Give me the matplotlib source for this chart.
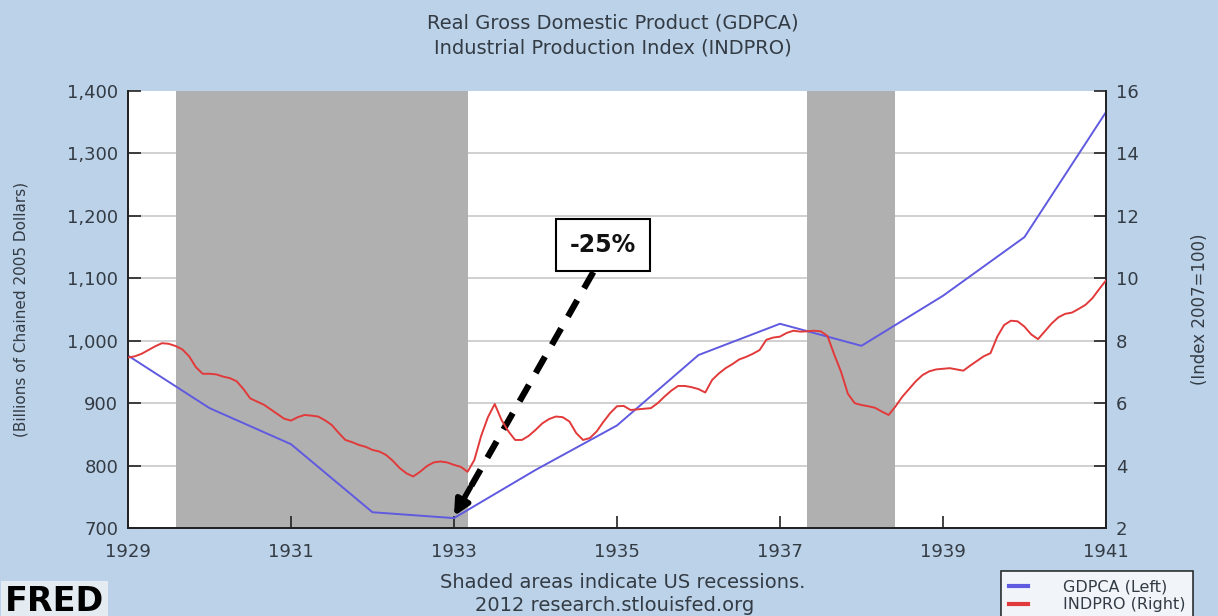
import matplotlib
matplotlib.use("Agg")
import matplotlib.pyplot as plt
import numpy as np

# GDPCA, annual (Billions of Chained 2005 Dollars)
gdp_years = [1929, 1930, 1931, 1932, 1933, 1934, 1935, 1936, 1937, 1938, 1939, 1940, 1941]
gdp_vals = [976.1, 892.0, 834.2, 725.2, 715.8, 792.9, 864.2, 977.0, 1027.1, 991.8, 1071.9, 1165.9, 1366.1]

# INDPRO, monthly (Index 2007=100), Jan 1929 .. Jan 1941
ind_1929 = [7.46, 7.50, 7.58, 7.70, 7.82, 7.92, 7.90, 7.83, 7.72, 7.50, 7.15, 6.94]
ind_1930 = [6.94, 6.92, 6.85, 6.80, 6.70, 6.45, 6.15, 6.05, 5.95, 5.80, 5.65, 5.50]
ind_1931 = [5.44, 5.55, 5.62, 5.60, 5.57, 5.45, 5.30, 5.05, 4.82, 4.75, 4.66, 4.60]
ind_1932 = [4.50, 4.45, 4.34, 4.15, 3.92, 3.75, 3.65, 3.80, 3.98, 4.10, 4.13, 4.10]
ind_1933 = [4.02, 3.96, 3.80, 4.18, 4.95, 5.55, 5.97, 5.46, 5.10, 4.82, 4.82, 4.95]
ind_1934 = [5.14, 5.35, 5.49, 5.57, 5.55, 5.41, 5.04, 4.82, 4.88, 5.09, 5.40, 5.68]
ind_1935 = [5.90, 5.91, 5.78, 5.80, 5.82, 5.84, 6.00, 6.21, 6.40, 6.55, 6.55, 6.51]
ind_1936 = [6.45, 6.34, 6.74, 6.95, 7.12, 7.25, 7.40, 7.48, 7.58, 7.70, 8.03, 8.10]
ind_1937 = [8.13, 8.25, 8.32, 8.29, 8.30, 8.32, 8.30, 8.15, 7.55, 7.00, 6.30, 6.00]
ind_1938 = [5.94, 5.90, 5.85, 5.73, 5.62, 5.89, 6.20, 6.45, 6.70, 6.90, 7.02, 7.08]
ind_1939 = [7.10, 7.12, 7.08, 7.04, 7.20, 7.35, 7.50, 7.60, 8.13, 8.50, 8.64, 8.62]
ind_1940 = [8.45, 8.20, 8.05, 8.30, 8.55, 8.75, 8.86, 8.90, 9.02, 9.15, 9.36, 9.65]
ind_1941 = [9.93]
ind_vals = (ind_1929 + ind_1930 + ind_1931 + ind_1932 + ind_1933 + ind_1934 + ind_1935
            + ind_1936 + ind_1937 + ind_1938 + ind_1939 + ind_1940 + ind_1941)
ind_x = [1929 + i / 12 for i in range(len(ind_vals))]

# recessions (start, end) as fractional years
recessions = [(1929 + 7 / 12, 1933 + 2 / 12), (1937 + 4 / 12, 1938 + 5 / 12)]

xticks = [1929, 1931, 1933, 1935, 1937, 1939, 1941]
left_ticks = [700, 800, 900, 1000, 1100, 1200, 1300, 1400]
right_ticks = [2, 4, 6, 8, 10, 12, 14, 16]

bg = "#bcd2e8"
txt = "#333b44"
blue = "#5f5ae0"
red = "#e23a3a"

plt.rcParams['font.family'] = ['DejaVu Sans']

fig = plt.figure(figsize=(12.18, 6.16), dpi=100, facecolor=bg)
ax = fig.add_axes([0.1051, 0.1429, 0.8029, 0.7094])
ax.set_facecolor("white")
ax2 = ax.twinx()

for s, e in recessions:
    ax.axvspan(s, e, color="#b0b0b0", lw=0, zorder=1)

for t in left_ticks[1:-1]:
    ax.axhline(t, color="#c8c8c8", lw=1.2, zorder=0.5)

ax.plot(gdp_years, gdp_vals, color=blue, lw=1.4, zorder=3, label="GDPCA (Left)")
ax2.plot(ind_x, ind_vals, color=red, lw=1.4, zorder=3, label="INDPRO (Right)")

ax.set_xlim(1929, 1941)
ax.set_ylim(700, 1400)
ax2.set_ylim(2, 16)
ax.set_xticks(xticks)
ax.set_xticklabels([str(x) for x in xticks])
ax.set_yticks(left_ticks)
ax.set_yticklabels(["{:,}".format(v) for v in left_ticks])
ax2.set_yticks(right_ticks)
ax2.set_yticklabels([str(v) for v in right_ticks])

for a in (ax, ax2):
    for sp in a.spines.values():
        sp.set_color("#222222")
        sp.set_linewidth(1.3)
    a.spines['top'].set_visible(False)
ax.tick_params(axis='both', direction='in', length=9, width=1.2, color="#222222",
               labelsize=13, labelcolor=txt)
ax.tick_params(axis='x', pad=11)
ax.tick_params(axis='y', pad=7)
ax2.tick_params(axis='y', direction='in', length=9, width=1.2, color="#222222",
                labelsize=13, labelcolor=txt, pad=7)

ax.set_ylabel("(Billions of Chained 2005 Dollars)", fontsize=11, color=txt, labelpad=28)
ax2.set_ylabel("(Index 2007=100)", fontsize=12, color=txt, labelpad=38)

# -25% annotation
ax.annotate("", xy=(1933.0, 719), xytext=(1934.71, 1110),
            arrowprops=dict(arrowstyle="-", lw=4.5, ls=(0, (3.0, 2.2)), color="black",
                            capstyle='butt', shrinkA=0, shrinkB=14), zorder=5)
ax.annotate("", xy=(1933.0, 719), xytext=(1933.2, 765),
            arrowprops=dict(arrowstyle="-|>,head_length=0.9,head_width=0.45", lw=4,
                            color="black", shrinkA=0, shrinkB=0), zorder=5)
ax.text(1934.83, 1153, "-25%", fontsize=17, fontweight='bold', color="#111111",
        ha='center', va='center', zorder=6,
        bbox=dict(boxstyle="square,pad=0.6", fc="white", ec="black", lw=1.5))

fig.text(0.503, 0.962, "Real Gross Domestic Product (GDPCA)", ha='center', va='center',
         fontsize=14, color=txt)
fig.text(0.503, 0.922, "Industrial Production Index (INDPRO)", ha='center', va='center',
         fontsize=14, color=txt)
fig.text(0.511, 0.055, "Shaded areas indicate US recessions.", ha='center', va='center',
         fontsize=14, color=txt)
fig.text(0.505, 0.017, "2012 research.stlouisfed.org", ha='center', va='center',
         fontsize=14, color=txt)

fig.text(0.004, 0.008, "FRED", ha='left', va='baseline', fontsize=24, fontweight='bold',
         color="black", bbox=dict(boxstyle="square,pad=0.12", fc="#e4ecf2", ec="none"))

h1, l1 = ax.get_legend_handles_labels()
h2, l2 = ax2.get_legend_handles_labels()
leg = fig.legend(h1 + h2, l1 + l2, loc='lower left', bbox_to_anchor=(0.815, -0.02),
                 fontsize=11.5, frameon=True, fancybox=False, edgecolor="black",
                 handlelength=1.2, handletextpad=2.2, borderpad=0.5, labelspacing=0.2)
leg.get_frame().set_linewidth(1.2)
for line in leg.get_lines():
    line.set_linewidth(3)
for t in leg.get_texts():
    t.set_color(txt)

fig.savefig("out.png", dpi=100, facecolor=bg)
